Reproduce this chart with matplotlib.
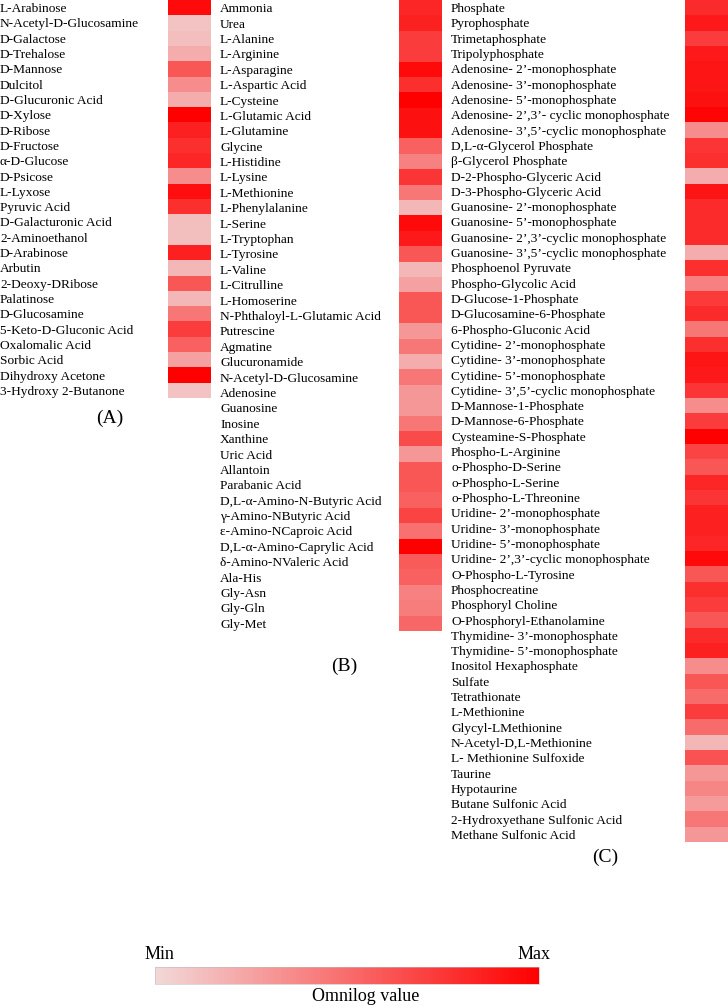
import numpy as np
import matplotlib
matplotlib.use("Agg")
import matplotlib.pyplot as plt
from matplotlib.colors import LinearSegmentedColormap

plt.rcParams['font.family'] = ['Liberation Serif', 'DejaVu Serif']

# (A) carbon sources
labels_a = ["L-Arabinose", "N-Acetyl-D-Glucosamine", "D-Galactose", "D-Trehalose",
            "D-Mannose", "Dulcitol", "D-Glucuronic Acid", "D-Xylose", "D-Ribose",
            "D-Fructose", "α-D-Glucose", "D-Psicose", "L-Lyxose", "Pyruvic Acid",
            "D-Galacturonic Acid", "2-Aminoethanol", "D-Arabinose", "Arbutin",
            "2-Deoxy-DRibose", "Palatinose", "D-Glucosamine", "5-Keto-D-Gluconic Acid",
            "Oxalomalic Acid", "Sorbic Acid", "Dihydroxy Acetone", "3-Hydroxy 2-Butanone"]
values_a = [0.95, 0.10, 0.12, 0.20, 0.60, 0.35, 0.20, 1.00, 0.85, 0.78, 0.82, 0.35, 0.93,
            0.78, 0.12, 0.12, 0.85, 0.15, 0.60, 0.15, 0.45, 0.72, 0.55, 0.25, 1.00, 0.10]

# (B) nitrogen sources
labels_b = ["Ammonia", "Urea", "L-Alanine", "L-Arginine", "L-Asparagine", "L-Aspartic Acid",
            "L-Cysteine", "L-Glutamic Acid", "L-Glutamine", "Glycine", "L-Histidine",
            "L-Lysine", "L-Methionine", "L-Phenylalanine", "L-Serine", "L-Tryptophan",
            "L-Tyrosine", "L-Valine", "L-Citrulline", "L-Homoserine",
            "N-Phthaloyl-L-Glutamic Acid", "Putrescine", "Agmatine", "Glucuronamide",
            "N-Acetyl-D-Glucosamine", "Adenosine", "Guanosine", "Inosine", "Xanthine",
            "Uric Acid", "Allantoin", "Parabanic Acid", "D,L-α-Amino-N-Butyric Acid",
            "γ-Amino-NButyric Acid", "ε-Amino-NCaproic Acid", "D,L-α-Amino-Caprylic Acid",
            "δ-Amino-NValeric Acid", "Ala-His", "Gly-Asn", "Gly-Gln", "Gly-Met"]
values_b = [0.82, 0.84, 0.72, 0.72, 0.95, 0.78, 1.00, 0.92, 0.92, 0.55, 0.40, 0.75, 0.45,
            0.15, 0.95, 0.88, 0.60, 0.15, 0.25, 0.60, 0.60, 0.30, 0.45, 0.20, 0.45, 0.30,
            0.30, 0.45, 0.65, 0.30, 0.60, 0.60, 0.55, 0.68, 0.48, 1.00, 0.58, 0.55, 0.40,
            0.42, 0.52]

# (C) phosphorus and sulfur sources
labels_c = ["Phosphate", "Pyrophosphate", "Trimetaphosphate", "Tripolyphosphate",
            "Adenosine- 2’-monophosphate", "Adenosine- 3’-monophosphate",
            "Adenosine- 5’-monophosphate", "Adenosine- 2’,3’- cyclic monophosphate",
            "Adenosine- 3’,5’-cyclic monophosphate", "D,L-α-Glycerol Phosphate",
            "β-Glycerol Phosphate", "D-2-Phospho-Glyceric Acid", "D-3-Phospho-Glyceric Acid",
            "Guanosine- 2’-monophosphate", "Guanosine- 5’-monophosphate",
            "Guanosine- 2’,3’-cyclic monophosphate", "Guanosine- 3’,5’-cyclic monophosphate",
            "Phosphoenol Pyruvate", "Phospho-Glycolic Acid", "D-Glucose-1-Phosphate",
            "D-Glucosamine-6-Phosphate", "6-Phospho-Gluconic Acid",
            "Cytidine- 2’-monophosphate", "Cytidine- 3’-monophosphate",
            "Cytidine- 5’-monophosphate", "Cytidine- 3’,5’-cyclic monophosphate",
            "D-Mannose-1-Phosphate", "D-Mannose-6-Phosphate", "Cysteamine-S-Phosphate",
            "Phospho-L-Arginine", "o-Phospho-D-Serine", "o-Phospho-L-Serine",
            "o-Phospho-L-Threonine", "Uridine- 2’-monophosphate", "Uridine- 3’-monophosphate",
            "Uridine- 5’-monophosphate", "Uridine- 2’,3’-cyclic monophosphate",
            "O-Phospho-L-Tyrosine", "Phosphocreatine", "Phosphoryl Choline",
            "O-Phosphoryl-Ethanolamine", "Thymidine- 3’-monophosphate",
            "Thymidine- 5’-monophosphate", "Inositol Hexaphosphate", "Sulfate",
            "Tetrathionate", "L-Methionine", "Glycyl-LMethionine", "N-Acetyl-D,L-Methionine",
            "L- Methionine Sulfoxide", "Taurine", "Hypotaurine", "Butane Sulfonic Acid",
            "2-Hydroxyethane Sulfonic Acid", "Methane Sulfonic Acid"]
values_c = [0.80, 0.88, 0.72, 0.88, 0.90, 0.90, 0.92, 0.98, 0.35, 0.75, 0.78, 0.20, 0.90,
            0.80, 0.80, 0.80, 0.20, 0.78, 0.40, 0.73, 0.80, 0.45, 0.78, 0.90, 0.88, 0.75,
            0.35, 0.72, 1.00, 0.68, 0.60, 0.82, 0.75, 0.85, 0.85, 0.82, 0.95, 0.60, 0.78,
            0.72, 0.60, 0.80, 0.85, 0.35, 0.60, 0.50, 0.72, 0.50, 0.15, 0.62, 0.30, 0.38,
            0.28, 0.45, 0.30]

cmap = LinearSegmentedColormap.from_list("omnilog", ["#f2d8d8", "#ff0000"])

W, H = 728, 1008
fig = plt.figure(figsize=(W / 100, H / 100), dpi=100)

# column placement in pixels: left, top, bottom, label start
panels = [
    (labels_a, values_a, 168, 0, 398, 0),
    (labels_b, values_b, 399, 0, 631, 220),
    (labels_c, values_c, 685, 0, 842, 451),
]
col_w = 43

for labels, vals, left, top, bottom, lab_x in panels:
    ax = fig.add_axes([left / W, 1 - bottom / H, col_w / W, (bottom - top) / H])
    ax.imshow(np.array(vals).reshape(-1, 1), aspect="auto", cmap=cmap, vmin=0, vmax=1,
              interpolation="nearest")
    ax.set_xticks([])
    ax.set_yticks(np.arange(len(labels)))
    ax.set_yticklabels(labels, fontsize=9.6, ha="left")
    ax.tick_params(axis="y", length=0, pad=(left - lab_x) * 0.72)
    for s in ax.spines.values():
        s.set_visible(False)

fig.text(110 / W, 1 - 418 / H, "(A)", fontsize=14, ha="center", va="center")
fig.text(344 / W, 1 - 666 / H, "(B)", fontsize=14, ha="center", va="center")
fig.text(605 / W, 1 - 857 / H, "(C)", fontsize=14, ha="center", va="center")

# colour scale
cax = fig.add_axes([155 / W, 1 - 984 / H, 384 / W, 17 / H])
sm = plt.cm.ScalarMappable(cmap=cmap, norm=plt.Normalize(0, 1))
cb = fig.colorbar(sm, cax=cax, orientation="horizontal")
cb.set_ticks([])
cb.outline.set_linewidth(0.4)
cb.outline.set_edgecolor("#bbbbbb")

fig.text(145 / W, 1 - 959 / H, "Min", fontsize=13, ha="left", va="baseline")
fig.text(518 / W, 1 - 959 / H, "Max", fontsize=13, ha="left", va="baseline")
fig.text(366 / W, 1 - 1001 / H, "Omnilog value", fontsize=13, ha="center", va="baseline")

fig.savefig("out.png", dpi=100)
